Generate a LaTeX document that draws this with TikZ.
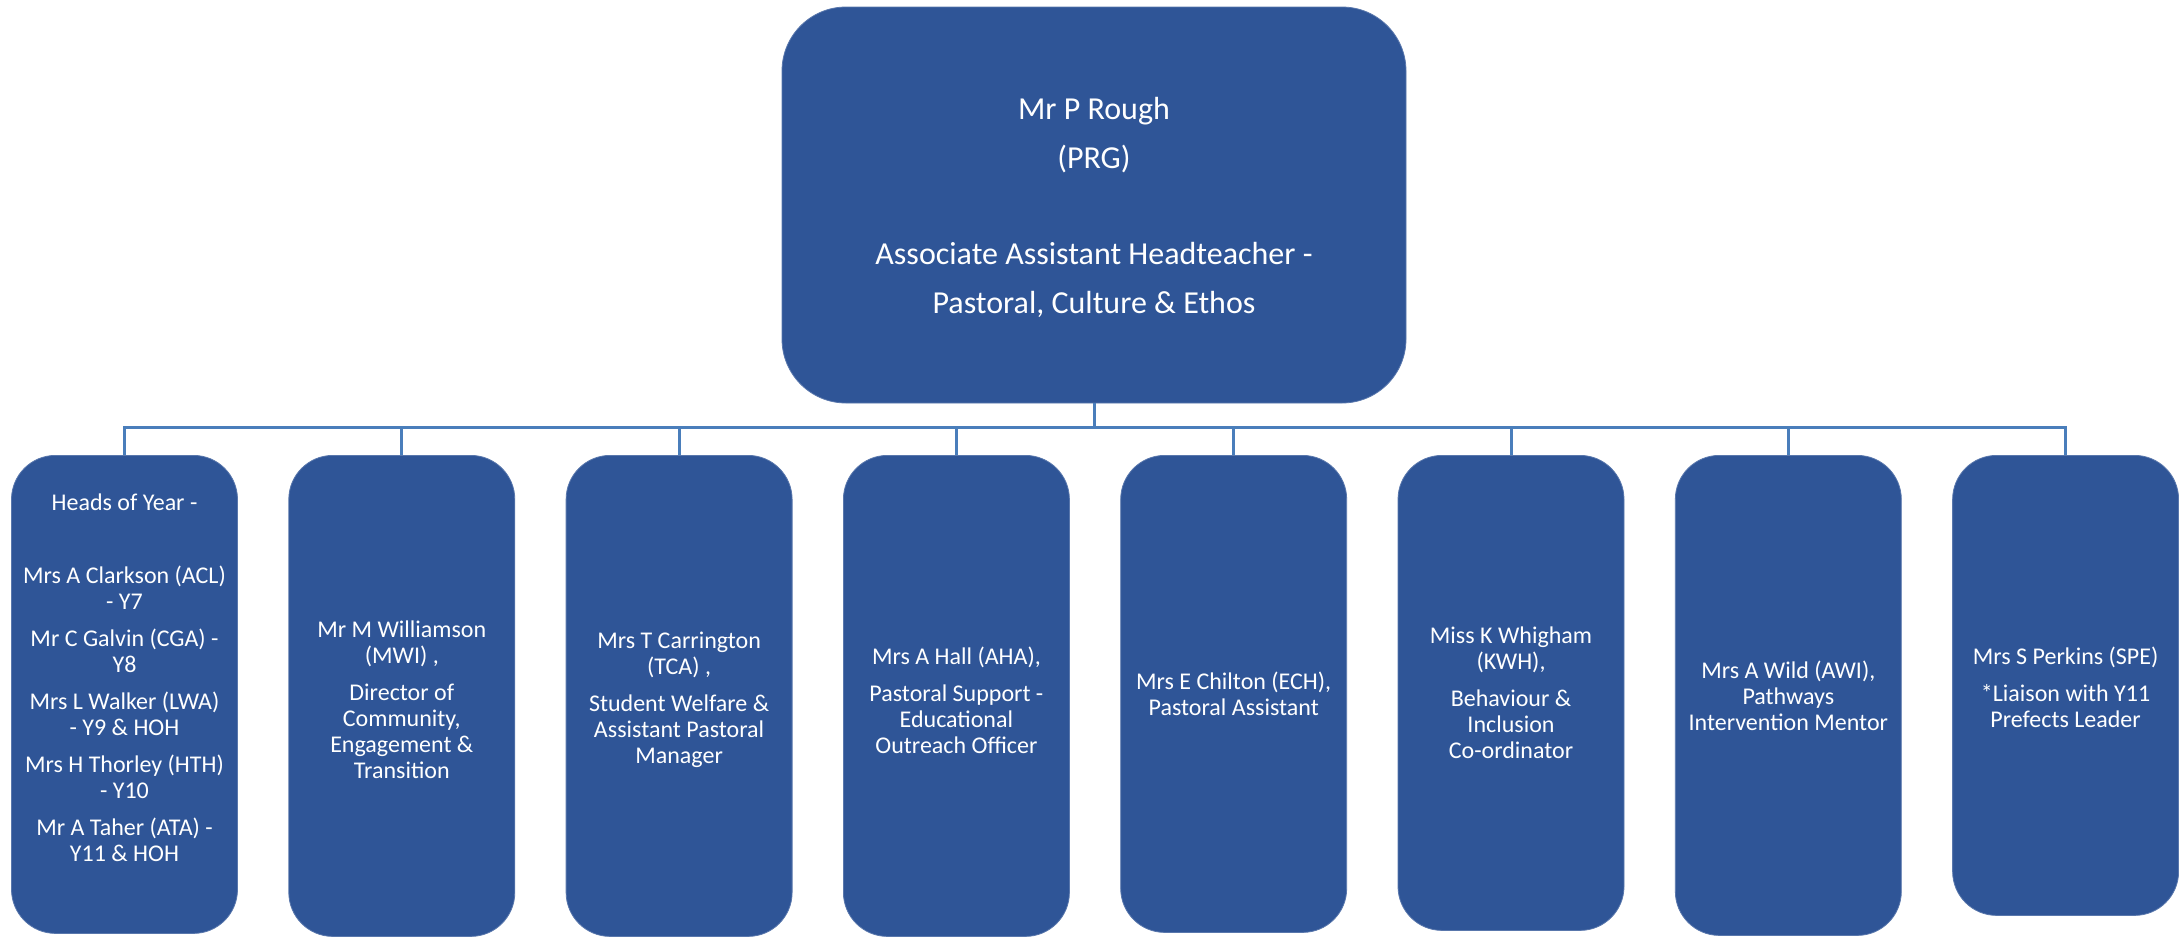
\documentclass[tikz,border=0pt]{standalone}
\usepackage{fontspec}
\setmainfont{Carlito}
\usetikzlibrary{calc}
\definecolor{boxblue}{HTML}{2F5597}
\definecolor{linkblue}{HTML}{4A7EBB}
\begin{document}
\begin{tikzpicture}[x=0.5pt,y=-0.5pt,
  topbox/.style={draw=boxblue!80!white, line width=0.4pt, fill=boxblue, rounded corners=32pt, minimum width=312pt, minimum height=198pt, inner sep=0pt},
  childbox/.style={draw=boxblue!80!white, line width=0.4pt, fill=boxblue, rounded corners=22pt, minimum width=113pt, inner sep=0pt, anchor=north},
  toptext/.style={text=white, align=center, font=\fontsize{16pt}{24.5pt}\selectfont},
  childtext/.style={text=white, align=center, font=\fontsize{12pt}{13pt}\selectfont},
  conn/.style={draw=linkblue, line width=1.5pt}]
\useasboundingbox (0,0) rectangle (2179,938);

\node[topbox] (top) at (1094,205) {};
\node[toptext] (toptxt) at (1094,207) {Mr P Rough\\ (PRG)\\[23.5pt] Associate Assistant Headteacher -\\ Pastoral, Culture \& Ethos};

\node[childbox, minimum height=239pt] (b1) at (124.5,455) {};
\node[childbox, minimum height=240.5pt] (b2) at (401.8,455) {};
\node[childbox, minimum height=240.5pt] (b3) at (679.1,455) {};
\node[childbox, minimum height=240.5pt] (b4) at (956.4,455) {};
\node[childbox, minimum height=238.5pt] (b5) at (1233.7,455) {};
\node[childbox, minimum height=237.5pt] (b6) at (1511,455) {};
\node[childbox, minimum height=240pt] (b7) at (1788.3,455) {};
\node[childbox, minimum height=230pt] (b8) at (2065.6,455) {};

\node[childtext] (t1) at (124.5,678) {Heads of Year -\\[23.5pt] Mrs A Clarkson (ACL)\\ - Y7\\[5.5pt] Mr C Galvin (CGA) -\\ Y8\\[5.5pt] Mrs L Walker (LWA)\\ - Y9 \& HOH\\[5.5pt] Mrs H Thorley (HTH)\\ - Y10\\[5.5pt] Mr A Taher (ATA) -\\ Y11 \& HOH};
\node[childtext] (t2) at (401.8,700) {Mr M Williamson\\ (MWI) ,\\[5.5pt] Director of\\ Community,\\ Engagement \&\\ Transition};
\node[childtext] (t3) at (679.1,700) {Mrs T Carrington\\ (TCA) ,\\[5.5pt] Student Welfare \&\\ Assistant Pastoral\\ Manager};
\node[childtext] (t4) at (956.4,700) {Mrs A Hall (AHA),\\[5.5pt] Pastoral Support -\\ Educational\\ Outreach Officer};
\node[childtext] (t5) at (1233.7,694) {Mrs E Chilton (ECH),\\ Pastoral Assistant};
\node[childtext] (t6) at (1511,693) {Miss K Whigham\\ (KWH),\\[5.5pt] Behaviour \&\\ Inclusion\\ Co-ordinator};
\node[childtext] (t7) at (1788.3,696) {Mrs A Wild (AWI),\\ Pathways\\ Intervention Mentor};
\node[childtext] (t8) at (2065.6,687) {Mrs S Perkins (SPE)\\[5.5pt] *Liaison with Y11\\ Prefects Leader};

\coordinate (bar) at (1094,427);
\foreach \b in {b1,b2,b3,b4,b5,b6,b7,b8}{
  \draw[conn] (top.south) -- (bar) -| (\b.north);
}
\end{tikzpicture}
\end{document}
